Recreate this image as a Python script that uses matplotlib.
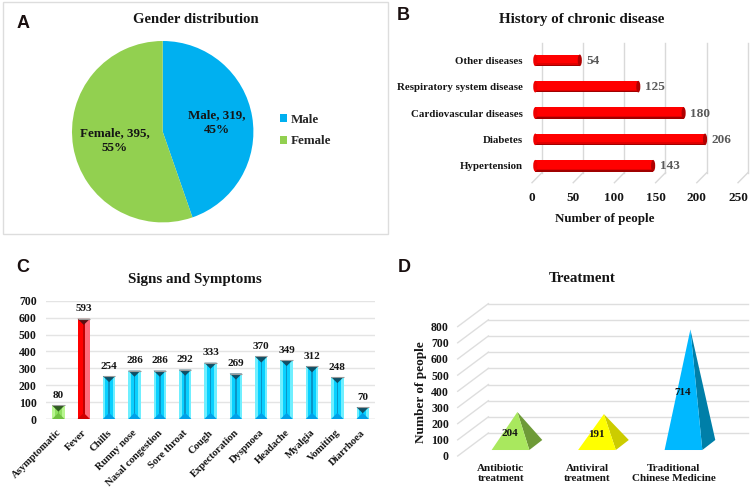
import matplotlib
matplotlib.use('Agg')
import matplotlib.pyplot as plt
from matplotlib.patches import Ellipse, Polygon, Rectangle
from matplotlib.transforms import Affine2D

W, H = 753, 488

# panel A
gender_labels = ['Male', 'Female']
gender_values = [319, 395]
gender_pct = [45, 55]
gender_colors = ['#00B0F0', '#92D050']

# panel B
disease_labels = ['Hypertension', 'Diabetes', 'Cardiovascular diseases',
                  'Respiratory system disease', 'Other diseases']
disease_values = [143, 206, 180, 125, 54]
disease_ticks = [0, 50, 100, 150, 200, 250]

# panel C
symptom_labels = ['Asymptomatic', 'Fever', 'Chills', 'Runny nose', 'Nasal congestion',
                  'Sore throat', 'Cough', 'Expectoration', 'Dyspnoea', 'Headache',
                  'Myalgia', 'Vomiting', 'Diarrhoea']
symptom_values = [80, 593, 254, 286, 286, 292, 333, 269, 370, 349, 312, 248, 70]
symptom_ticks = [0, 100, 200, 300, 400, 500, 600, 700]

# panel D
treatment_labels = ['Antibiotic\ntreatment', 'Antiviral\ntreatment',
                    'Traditional\nChinese Medicine']
treatment_values = [204, 191, 714]
treatment_ticks = [0, 100, 200, 300, 400, 500, 600, 700, 800]

plt.rcParams['font.family'] = ['Liberation Serif', 'DejaVu Serif']
plt.rcParams['font.weight'] = 'bold'

DARK = '#151515'


def make_axes(fig, left, top, right, bottom):
    # pixel box, y measured from the top of the picture
    ax = fig.add_axes([left / W, 1 - bottom / H, (right - left) / W, (bottom - top) / H])
    ax.patch.set_alpha(0)
    return ax


def clean(ax):
    for s in ax.spines.values():
        s.set_visible(False)
    ax.tick_params(length=0)


def fig_text(fig, x, y, s, **kw):
    kw.setdefault('ha', 'center')
    kw.setdefault('va', 'center')
    kw.setdefault('color', DARK)
    return fig.text(x / W, 1 - y / H, s, **kw)


fig = plt.figure(figsize=(W / 100, H / 100), dpi=100, facecolor='white')

# frame round panel A
fig.add_artist(Rectangle((2.5 / W, 1 - 234 / H), 385.5 / W, 232.5 / H, transform=fig.transFigure,
                         fill=False, ec='#DDDDDD', lw=1))

# A: pie
ax = make_axes(fig, 72, 41, 253.4, 222.4)
wedges, _ = ax.pie(gender_values, colors=gender_colors, startangle=90, counterclock=False, radius=1)
ax.set_xlim(-1, 1)
ax.set_ylim(-1, 1)
ax.text(0.60, 0.10, '%s, %d,\n%d%%' % (gender_labels[0], gender_values[0], gender_pct[0]),
        ha='center', va='center', fontsize=9.4, color=DARK, linespacing=1.25)
ax.text(-0.53, -0.10, '%s, %d,\n%d%%' % (gender_labels[1], gender_values[1], gender_pct[1]),
        ha='center', va='center', fontsize=9.4, color=DARK, linespacing=1.25)
fig.legend(wedges, gender_labels, loc='center left', bbox_to_anchor=(280 / W, 1 - 130.5 / H),
           frameon=False, fontsize=9.4, handlelength=0.55, handleheight=0.55,
           handletextpad=0.25, labelspacing=0.72, borderpad=0, borderaxespad=0,
           labelcolor='#262626')
fig_text(fig, 195.5, 19.5, 'Gender distribution', fontsize=10.6)

# B: cylinder bars, axes box is the front plane of the 3D floor
ax = make_axes(fig, 532, 43, 738, 182.7)
ax.set_xlim(0, 250)
ax.set_ylim(-0.645, 4.657)
clean(ax)
y_pos = list(range(len(disease_labels)))
for t in disease_ticks:
    ax.plot([t + 12, t + 12], [-0.265, 4.657], color='#D9D9D9', lw=1, zorder=1, clip_on=False)
    ax.plot([t, t + 12], [-0.645, -0.265], color='#D9D9D9', lw=1, zorder=1, clip_on=False)
bar_h = 0.44
ax.barh(y_pos, disease_values, left=4, height=bar_h, color='#A00000', zorder=2)
ax.barh([y + 0.03 for y in y_pos], disease_values, left=4, height=bar_h - 0.06, color='#E00000', zorder=3)
ax.barh([y + 0.05 for y in y_pos], disease_values, left=4, height=bar_h - 0.12, color='#FF0000', zorder=4)
for y, v in zip(y_pos, disease_values):
    ax.add_patch(Ellipse((4, y), 5, bar_h, color='#F00000', zorder=5, lw=0))
    ax.add_patch(Ellipse((4 + v, y), 5, bar_h, color='#B00000', zorder=5, lw=0))
    ax.annotate(str(v), (4 + v + 3, y - 0.03), xytext=(3, 0), textcoords='offset points',
                ha='left', va='center', fontsize=9.5, color='#595959')
ax.set_xticks(disease_ticks)
ax.set_xticklabels(disease_ticks, fontsize=9.5, color=DARK)
ax.tick_params(axis='x', pad=7)
ax.set_yticks(y_pos)
ax.set_yticklabels(disease_labels, fontsize=7.8, color=DARK)
ax.tick_params(axis='y', pad=6.5)
fig_text(fig, 605, 219, 'Number of people', fontsize=9.4)
fig_text(fig, 581.5, 19, 'History of chronic disease', fontsize=10.8)

# C: bevelled columns
ax = make_axes(fig, 45.7, 300.7, 375.4, 419)
ax.set_xlim(-0.5, 12.5)
ax.set_ylim(0, 700)
clean(ax)
ax.set_yticks(symptom_ticks)
ax.set_yticklabels(symptom_ticks, fontsize=8.5, color=DARK)
ax.tick_params(axis='y', pad=6.5)
ax.grid(axis='y', color='#E4E4E4', lw=1)
ax.set_axisbelow(True)
ax.axhline(0, color='#D9D9D9', lw=1, zorder=1)
half = 0.245
bevel_y = 36
edge_w = 0.1


def column_colors(i):
    # left, right, side edge, centre stripe, bottom, top
    if i == 0:
        return '#8EE060', '#8EE060', '#B8F590', '#6FBE48', '#6FC040', '#2F5A20'
    if i == 1:
        return '#FF0000', '#FF6B7A', '#FF0000', '#C00000', '#D00000', '#5A0F10'
    return '#08D0FF', '#08D0FF', '#6FEFFF', '#0A96C8', '#00A0E8', '#0F4F66'


for i, v in enumerate(symptom_values):
    left, right, edge, stripe, bottom, top = column_colors(i)
    ax.bar(i, v, width=half * 2, color=edge, zorder=2)
    ax.bar(i - (half - edge_w) / 2, v, width=half - edge_w, color=left, zorder=3)
    ax.bar(i + (half - edge_w) / 2, v, width=half - edge_w, color=right, zorder=3)
    if i == 1:
        ax.bar(i + half / 2, v, width=half, color=right, zorder=3)
    ax.bar(i, v, width=0.06, color=stripe, zorder=4)
    ax.add_patch(Polygon([(i - half, 0), (i + half, 0), (i, bevel_y)], color=bottom, zorder=5, lw=0))
    ax.add_patch(Polygon([(i - half, v), (i + half, v), (i, v - bevel_y)], color=top, zorder=5, lw=0))
    ax.plot([i - half, i + half], [v, v], color='#9A9A9A', lw=0.8, zorder=6, solid_capstyle='butt')
    ax.annotate(str(v), (i, v), xytext=(0, 7.2), textcoords='offset points', ha='center', va='center',
                fontsize=8, color=DARK)
ax.set_xticks(range(len(symptom_labels)))
ax.set_xticklabels(symptom_labels, rotation=45, ha='right', rotation_mode='anchor',
                   fontsize=7.6, color=DARK)
ax.tick_params(axis='x', pad=6.5)
for lab in ax.get_xticklabels():
    lab.set_transform(lab.get_transform() + Affine2D().translate(-2, 0))
fig_text(fig, 195.3, 279.3, 'Signs and Symptoms', fontsize=10.8)

# D: 3D pyramids, axes box is the front plane of the floor
ax = make_axes(fig, 457.7, 303, 717.2, 456)
ax.set_xlim(-0.5, 2.5)
ax.set_ylim(0, 946)
clean(ax)
depth_x, depth_y = 0.355, 142
for t in treatment_ticks:
    ax.plot([-0.5, -0.5 + depth_x], [t, t + depth_y], color='#DEDEDE', lw=1, zorder=1, clip_on=False)
    ax.plot([-0.5 + depth_x, 2.5 + depth_x], [t + depth_y, t + depth_y], color='#DEDEDE', lw=1,
            zorder=1, clip_on=False)
front_colors = ['#A9E85E', '#FFFF00', '#00B8FF']
side_colors = ['#6E9A38', '#CCCC00', '#007FA8']
for i, v in enumerate(treatment_values):
    apex = (i + 0.19, v + 68)
    fl = (i - 0.108, 37)
    fr = (i + 0.328, 37)
    br = (i + 0.478, 99)
    ax.add_patch(Polygon([fr, br, apex], color=side_colors[i], lw=0, zorder=3, clip_on=False))
    ax.add_patch(Polygon([fl, fr, apex], color=front_colors[i], lw=0, zorder=4, clip_on=False))
    ax.text(i + 0.105, v / 2 + 35, str(v), ha='center', va='center', fontsize=8, color=DARK, zorder=5)
ax.set_xticks(range(len(treatment_labels)))
ax.set_xticklabels(treatment_labels, fontsize=8, color=DARK, linespacing=1.2)
ax.tick_params(axis='x', pad=5.5)
ax.set_yticks(treatment_ticks)
ax.set_yticklabels(treatment_ticks, fontsize=8.5, color=DARK)
ax.tick_params(axis='y', pad=6.3)
fig_text(fig, 421.5, 392, 'Number of people', fontsize=9.5, rotation=90)
fig_text(fig, 582, 279, 'Treatment', fontsize=10.8)

# panel letters
for x, y, s in [(23, 24, 'A'), (403, 16, 'B'), (22.5, 267, 'C'), (404, 267, 'D')]:
    fig_text(fig, x, y, s, fontsize=13, family='Liberation Sans', color='#1A1010')

fig.savefig('out.png', dpi=100)
